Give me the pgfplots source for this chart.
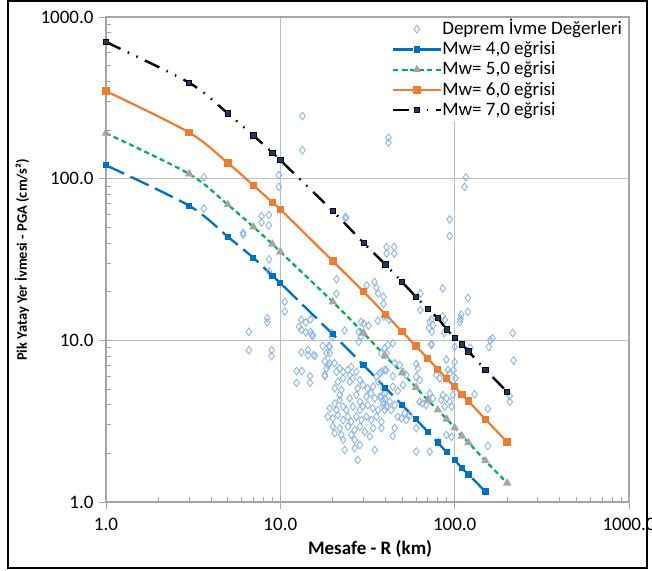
\documentclass[border=0pt]{standalone}
\usepackage{fontspec}
\setmainfont{Carlito}
\usepackage{pgfplots}
\usepackage{pgfplotstable}
\pgfplotsset{compat=1.18}

\definecolor{scat}{RGB}{140,182,228}
\definecolor{mwfour}{RGB}{0,112,192}
\definecolor{mwfive}{RGB}{0,176,80}
\definecolor{mwfivemk}{RGB}{165,165,165}
\definecolor{mwsix}{RGB}{237,125,49}
\definecolor{mwsevenmk}{RGB}{32,56,100}
\definecolor{gridc}{RGB}{191,191,191}
\definecolor{axisc}{RGB}{166,166,166}
\newcommand\fs{\fontsize{19}{21}\selectfont}

% R (km)  PGA (cm/s^2)
\pgfplotstableread{
R P
13.4 244
13.4 150
3.64 102
9.80 105
9.80 89
3.64 65.3
7.80 58.7
8.59 59.6
7.80 53.6
8.59 51.3
6.12 46.3
6.12 45.0
8.62 31.7
8.62 26.6
21.0 23.9
21.0 19.4
10.6 17.3
10.6 15.1
8.4 13.7
8.4 12.9
6.60 11.3
6.60 8.69
8.91 8.69
8.91 8.00
41.7 179
41.7 167
23.7 58.1
23.7 56.6
40.7 37.8
45.0 37.8
40.7 34.4
45.0 34.4
93.6 56.0
93.6 44.2
116 102
114 89
31.3 21.9
34.7 23.0
35.5 21.2
36.4 19.5
39.1 18.6
39.1 16.8
63.6 19.5
85.4 20.9
63.6 15.4
85.4 14.1
119 18.3
119 15.0
42.0 13.4
36.3 13.2
29.0 13.0
30.1 12.7
23.4 11.5
19.8 11.1
19.7 10.5
28.2 11.3
29.0 10.6
28.2 9.8
73.5 13.4
74.0 11.3
109 14.4
108 13.6
107 13.0
160 10.0
165 10.3
157 9.1
215 11.1
73.5 9.5
100 9.1
123 9.0
87 11.1
88 13.4
218 7.5
100 7.35
98.7 6.55
101 5.82
207 4.52
207 4.17
130 4.63
155 3.77
96 3.89
96 2.53
155 2.22
97.5 4.61
13.2 13.4
14.0 12.9
14.9 13.5
12.8 12.1
13.2 11.6
14.0 11.2
14.9 11.3
15.4 10.7
13.2 8.44
14.4 8.71
14.4 8.11
15.8 8.0
12.4 6.46
13.3 6.46
12.4 5.46
14.8 6.01
14.8 5.46
18.0 6.01
18.8 7.03
18.4 8.32
19.2 9.12
15.1 10.8
15.5 8.11
32.1 12.3
39.2 14.0
17.5 9.24
19.0 9.24
19.2 8.32
18.0 7.40
19.2 7.22
18.4 6.70
18.0 6.10
20.5 7.22
21.9 6.70
21.0 6.40
22.9 6.40
24.4 6.55
25.5 6.86
25.0 6.10
27.3 6.40
22.9 5.83
26.1 5.83
28.6 5.68
25.0 5.54
21.4 5.54
20.5 5.05
22.4 4.93
21.9 4.59
27.8 5.05
29.8 5.29
31.7 5.05
34.1 5.17
36.4 5.54
37.2 6.26
39.7 6.55
35.6 5.95
33.0 4.70
31.2 4.48
34.8 4.38
37.2 4.48
39.7 4.38
27.3 4.59
25.0 4.38
28.6 4.17
20.5 4.07
21.9 4.27
19.2 3.79
21.0 3.71
22.9 3.89
23.9 3.71
26.1 3.89
28.6 3.71
29.7 3.89
31.7 3.98
33.9 3.79
36.4 3.71
38.9 3.98
39.7 3.71
18.7 3.37
20.0 3.29
21.4 3.45
22.9 3.21
24.4 3.37
25.5 3.14
27.3 3.37
29.2 3.21
31.2 3.37
33.2 3.21
35.6 3.37
38.0 3.14
20.0 2.93
21.9 2.86
20.5 2.66
22.4 2.60
24.4 2.93
26.7 2.79
25.5 2.60
28.6 2.93
30.5 2.72
32.6 2.54
34.1 2.86
38.0 2.86
22.9 2.42
26.7 2.42
28.6 2.25
23.4 2.10
27.8 1.82
34.8 2.10
26.7 2.15
44.2 2.56
60.2 2.05
71.9 2.05
44.2 9.58
41.4 9.35
39.7 8.91
40.5 8.32
38.0 8.32
71.9 13.0
75.1 12.4
71.2 11.9
73.5 9.35
89.6 7.6
60.2 7.13
61.5 6.70
63.0 5.68
60.2 5.95
50.5 6.40
52.8 6.10
44.2 6.01
40.5 6.55
38.0 6.40
45.3 7.22
48.4 7.03
78.5 6.10
82.0 5.83
91.6 6.55
93.6 6.26
89.6 5.83
85.4 4.59
83.7 4.27
89.6 4.38
93.6 4.17
87.7 3.89
71.9 4.70
75.1 4.38
68.7 3.98
63.0 4.17
65.3 4.07
42.4 4.17
45.3 3.98
43.2 3.71
40.5 3.89
38.9 4.17
47.2 3.37
49.5 3.29
52.8 3.21
55.2 3.45
51.7 3.55
38.9 5.05
39.7 4.70
38.0 4.48
44.2 5.17
47.2 4.86
50.5 5.29
45.3 2.86
60.2 2.86
80.5 2.36
89.6 2.60
}\deprem

\begin{document}
\begin{tikzpicture}[x=1pt,y=1pt]
\begin{axis}[
  at={(0,0)}, anchor=south west,
  scale only axis, width=523pt, height=485pt,
  xmode=log, ymode=log,
  xmin=1, xmax=1000, ymin=1, ymax=1000,
  xtick={1,10,100,1000}, xticklabels={1.0,10.0,100.0,1000.0},
  ytick={1,10,100,1000}, yticklabels={1.0,10.0,100.0,1000.0},
  grid=major, major grid style={draw=gridc, line width=1.1pt},
  axis line style={draw=axisc, line width=1.1pt},
  tick pos=left,
  tick align=outside, major tick length=7pt, minor tick length=-5pt,
  every tick/.style={draw=axisc, line width=0.9pt},
  tick label style={font=\fs, text=black},
  xticklabel style={yshift=-6pt},
  yticklabel style={xshift=-2pt},
  xlabel={Mesafe - R (km)},
  ylabel={Pik Yatay Yer İvmesi - PGA (cm/s²)},
  every axis x label/.style={at={(axis description cs:0.505,-0.0969)},
    anchor=center, font=\bfseries\fs},
  every axis y label/.style={at={(axis description cs:-0.1606,0.499)},
    anchor=center, rotate=90,
    font=\bfseries\fontsize{14.5}{16}\selectfont},
  legend cell align=left,
  legend style={at={(axis description cs:0.545,0.998)}, anchor=north west,
    draw=none, fill=white, font=\fs, row sep=0pt, inner sep=1pt,
    nodes={inner sep=0.7pt, text height=14.6pt, text depth=4.2pt}},
  legend image code/.code={\draw[mark repeat=2, mark phase=2, #1]
    plot coordinates {(0pt,0pt) (23.5pt,0pt) (47pt,0pt)};},
]
\addplot[only marks, mark=diamond, mark size=3.8pt, draw=scat,
         line width=0.9pt] table[x=R, y=P] {\deprem};
\addlegendentry{Deprem İvme Değerleri}

\addplot[smooth, mwfour, line width=2.3pt, dash pattern=on 20pt off 7pt,
         mark=square*, mark size=2pt, mark options={solid, fill=mwfour}]
  coordinates {(1,121) (3,68) (5,43.7) (7,32.4) (9,25.1) (10,22.6)
    (20,10.9) (30,7.03) (40,5.09) (50,3.98) (60,3.25) (70,2.72)
    (80,2.33) (90,2.03) (100,1.82) (110,1.62) (120,1.48) (150,1.16)};
\addlegendentry{Mw= 4,0 eğrisi}

\addplot[smooth, mwfive, line width=2.2pt, dash pattern=on 5pt off 3.5pt,
         mark=triangle*, mark size=2.8pt,
         mark options={solid, draw=mwfivemk, fill=mwfivemk}]
  coordinates {(1,191) (3,107) (5,69) (7,50.4) (9,39.4) (10,35.3)
    (20,17.3) (30,11.1) (40,8.0) (50,6.3) (60,5.12) (70,4.27)
    (80,3.71) (90,3.26) (100,2.88) (110,2.56) (120,2.33) (150,1.80)
    (200,1.31)};
\addlegendentry{Mw= 5,0 eğrisi}

\addplot[smooth, mwsix, line width=2.2pt,
         mark=square*, mark size=2.6pt, mark options={solid, fill=mwsix}]
  coordinates {(1,348) (3,193) (5,125) (7,91) (9,71.3) (10,64.6)
    (20,30.9) (30,20.0) (40,14.5) (50,11.3) (60,9.2) (70,7.74)
    (80,6.62) (90,5.79) (100,5.17) (110,4.61) (120,4.21) (150,3.25)
    (200,2.35)};
\addlegendentry{Mw= 6,0 eğrisi}

\addplot[smooth, black, line width=2.4pt,
         dash pattern=on 16pt off 8pt on 1.5pt off 8pt on 1.5pt off 8pt,
         mark=square*, mark size=2.6pt,
         mark options={solid, draw=black, fill=mwsevenmk, line width=0.8pt}]
  coordinates {(1,700) (3,392) (5,253) (7,185) (9,145) (10,130)
    (20,63) (30,40.1) (40,29.5) (50,22.9) (60,18.6) (70,15.6)
    (80,13.7) (90,11.7) (100,10.4) (110,9.45) (120,8.55) (150,6.58)
    (200,4.81)};
\addlegendentry{Mw= 7,0 eğrisi}
\end{axis}
\pgfresetboundingbox
\path[use as bounding box] (-106,-68) rectangle (546,502);
\draw[line width=2.5pt] (-98,-66) rectangle (541,501);
\end{tikzpicture}
\end{document}
